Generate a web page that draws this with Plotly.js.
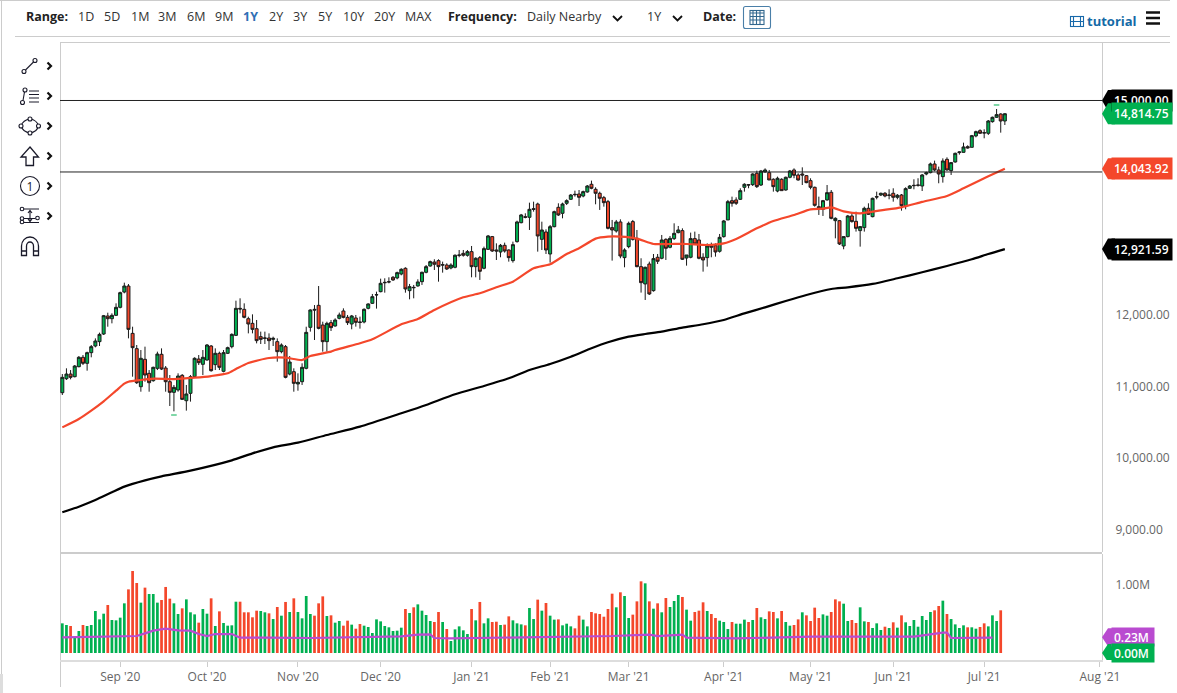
<!DOCTYPE html>
<html><head><meta charset="utf-8">
<script src="https://cdn.plot.ly/plotly-3.0.1.min.js"></script>
<style>
html,body{margin:0;padding:0;background:#fff;font-family:"Open Sans",sans-serif}
#stage{position:relative;width:1177px;height:693px;overflow:hidden}
#chart{position:absolute;left:0;top:0;width:1177px;height:693px}
.l{position:absolute;background:#ccc}
.t{position:absolute;top:9px;line-height:16px;font-size:12.5px;color:#333;white-space:nowrap}
.b{font-weight:700;color:#222}
svg{position:absolute;left:0;top:0;pointer-events:none}
</style></head><body><div id="stage">
<div class="l" style="left:0;top:0;width:1170px;height:1px"></div>
<div class="l" style="left:1px;top:0;width:1px;height:674px"></div>
<div class="l" style="left:0;top:674px;width:3px;height:19px;background:#ddd"></div>
<div class="l" style="left:15px;top:36px;width:1155px;height:1px"></div>
<div class="l" style="left:60px;top:42px;width:1110px;height:1px"></div>
<div class="l" style="left:60px;top:42px;width:1px;height:645px"></div>
<div class="l" style="left:60px;top:552px;width:1042px;height:2px"></div>
<div id="chart"></div>
<div id="bar"></div>
<svg width="1177" height="693" fill="none" stroke="#1a1a2a" stroke-width="1.1">
<circle cx="24" cy="71.5" r="2"/><circle cx="35" cy="60.5" r="2"/><path d="M25.5 70L33.5 62"/>
<circle cx="25" cy="90" r="2"/><circle cx="22.5" cy="102.5" r="2"/><path d="M24.5 92L23 100.5M29 91H39M29 94.5H39M29 98H39M29 102H39"/>
<path d="M30 119Q37 120 38.5 126Q37 132 30 133Q23 132 21 126Q23 120 30 119Z"/><g fill="#fff"><circle cx="30" cy="119" r="2"/><circle cx="30" cy="133" r="2"/><circle cx="21" cy="126" r="2"/><circle cx="38.5" cy="126" r="2"/></g>
<path stroke-width="1.3" d="M30 147L38.5 157H33.5V165.5H26V157H21Z"/>
<circle cx="30" cy="186" r="9.5"/>
<text x="30" y="190.5" text-anchor="middle" font-size="12" fill="#1a1a2a" stroke="none" font-family="Open Sans">1</text>
<circle cx="22" cy="209" r="1.8"/><circle cx="22" cy="218.5" r="1.8"/><circle cx="22" cy="222" r="1.8"/><circle cx="37.5" cy="218" r="1.8"/>
<path d="M24 209H39M24 218.5H35.5M24 222.5H39M30 211V221M28 213L30 210.5L32 213M28 219L30 221.5L32 219"/>
<path stroke-width="1.3" d="M21.5 255.5V246A8.5 9 0 0 1 38.5 246V255.5H33.5V246A3.5 4 0 0 0 26.5 246V255.5ZM21.5 251H26.5M33.5 251H38.5"/>
<g stroke-width="2.2" stroke="#111"><path d="M47.5 62.5L51 66L47.5 69.5M47.5 92.5L51 96L47.5 99.5M47.5 122.5L51 126L47.5 129.5M47.5 152.5L51 156L47.5 159.5M47.5 182.5L51 186L47.5 189.5M47.5 212.5L51 216L47.5 219.5"/>
<path stroke-width="1.8" d="M613 16L617.5 20.5L622 16M673 16L677.5 20.5L682 16"/></g>
<rect x="743.5" y="6.5" width="27" height="22" rx="2" stroke="#4a7fa8"/>
<rect x="750" y="10.5" width="14" height="14" stroke="#33688f"/><path stroke="#33688f" d="M750 13H764M753 10V25M756.5 10V25M760 10V25M750 16.5H764M750 20H764"/>
<g stroke="#1769aa"><rect x="1070.5" y="16.5" width="13" height="10"/><path d="M1073.5 16.5V26.5M1080.5 16.5V26.5M1070.5 21.5H1073.5M1080.5 21.5H1083.5M1073.5 21.5H1080.5"/></g>
<path stroke="#111" stroke-width="2.4" d="M1146 12.5H1160M1146 18H1160M1146 23.5H1160"/>
</svg>
</div>
<script>
// candles
var opens=[10913,11109,11174,11137,11277,11408,11324,11473,11566,11627,
11734,11986,11948,11995,12107,12321,12405,11743,11529,10997,
11380,11184,11081,11254,11450,11258,11067,10918,10951,11156,
10801,10904,11137,11384,11310,11370,11566,11305,11464,11212,
11464,11557,11715,12093,12079,11948,11883,11808,11697,11673,
11678,11659,11627,11487,11557,11174,11207,11035,11067,11254,
11827,12079,12135,11860,11627,11893,11846,11953,12056,11967,
11874,11958,11902,11902,12093,12163,12280,12326,12457,12466,
12527,12518,12573,12653,12340,12387,12406,12466,12597,12685,
12741,12760,12704,12699,12657,12667,12839,12862,12835,12886,
12676,12802,12653,12918,13096,12909,12881,12974,12909,12760,
13026,13291,13375,13366,13487,13552,13058,13161,12853,13235,
13506,13422,13562,13618,13688,13692,13664,13720,13828,13758,
13702,13641,13585,13222,13175,13301,12802,12956,13306,13072,
12676,12434,12713,12340,12807,12793,13058,12947,13068,13152,
13180,12797,12807,13068,13049,12807,12802,12975,12970,12891,
13096,13329,13599,13609,13618,13786,13823,13823,13982,13818,
14000,13991,13898,13734,13898,13748,13926,14028,13958,13972,
13949,13879,13786,13515,13478,13609,13716,13319,13319,12965,
13096,13385,13310,13180,13222,13492,13375,13655,13678,13702,
13678,13702,13646,13678,13525,13772,13814,13818,13804,13972,
13991,14112,14028,13935,14177,14019,14140,14271,14275,14354,
14345,14504,14578,14550,14541,14704,14765,14811,14713];
var highs=[11174,11254,11230,11300,11426,11440,11487,11580,11673,11753,
12000,12032,12023,12163,12326,12452,12433,11836,11580,11510,
11557,11230,11277,11487,11533,11286,11160,11021,11184,11174,
11021,11160,11408,11440,11510,11594,11580,11533,11487,11510,
11557,11743,12200,12233,12163,11976,12009,11930,11767,11767,
11743,11697,11673,11603,11580,11426,11254,11184,11324,11836,
12079,12139,12405,11906,11906,11930,11953,12033,12093,12000,
12000,12000,11977,12093,12163,12294,12326,12508,12513,12527,
12545,12606,12653,12667,12434,12420,12499,12606,12699,12760,
12779,12779,12746,12723,12723,12848,12909,12909,12909,12965,
12807,12825,12956,13119,13105,13002,12993,13012,12918,13026,
13319,13413,13422,13571,13585,13571,13305,13198,13259,13459,
13562,13571,13618,13692,13739,13748,13739,13818,13879,13786,
13725,13665,13609,13329,13329,13338,12933,13306,13329,13189,
12793,12676,12746,12853,12853,13119,13072,13105,13282,13245,
13212,12839,13152,13166,13133,12863,13002,13012,13002,13133,
13329,13609,13655,13646,13772,13842,13832,13982,14019,14028,
14051,14028,13912,13935,13912,13935,14028,14051,13982,14065,
13958,13912,13795,13655,13609,13818,13748,13366,13329,13096,
13399,13431,13445,13245,13515,13562,13641,13725,13711,13720,
13758,13772,13692,13692,13786,13818,13898,13912,13972,14005,
14131,14159,14075,14191,14205,14140,14271,14289,14410,14373,
14518,14578,14597,14597,14727,14774,14881,14821,14821];
var lows=[10881,11091,11100,11128,11268,11300,11221,11408,11547,11566,
11720,11836,11883,11986,12093,12303,11673,11137,11035,10927,
11067,10927,11067,11230,11230,10927,10727,10652,10927,10811,
10662,10788,11128,11300,11160,11361,11207,11230,11230,11198,
11454,11533,11706,12023,11953,11743,11743,11603,11594,11594,
11510,11566,11347,11464,11114,11156,10927,10941,11021,11240,
11767,11650,11799,11487,11487,11776,11837,11939,11953,11860,
11800,11837,11809,11883,12079,12154,12089,12317,12312,12443,
12476,12499,12555,12312,12219,12233,12396,12420,12583,12676,
12629,12466,12592,12629,12639,12653,12807,12816,12816,12527,
12527,12490,12639,12909,12881,12769,12807,12872,12746,12732,
13012,13282,13352,13189,13445,12886,12909,12853,12732,13226,
13385,13352,13538,13608,13655,13524,13646,13711,13758,13548,
13469,13515,13198,12760,13152,12793,12667,12933,13040,12667,
12313,12210,12280,12326,12713,12779,12769,12933,13049,13142,
12769,12690,12793,12979,12779,12606,12676,12807,12816,12872,
13082,13329,13515,13539,13609,13725,13772,13804,13776,13804,
13991,13888,13725,13716,13739,13739,13912,13912,13879,13818,
13842,13758,13515,13399,13385,13599,13338,13072,12979,12919,
13086,13292,13166,12956,13166,13399,13366,13618,13664,13646,
13618,13585,13618,13459,13478,13762,13758,13795,13734,13954,
13981,14009,13842,13851,14019,13958,14131,14243,14271,14326,
14345,14485,14532,14471,14518,14690,14755,14550,14657];
var closes=[11128,11174,11128,11286,11408,11324,11473,11557,11636,11729,
11990,11948,11995,12107,12312,12405,11799,11543,11053,11394,
11160,11053,11268,11454,11244,11067,10918,10988,11146,10820,
10895,11137,11394,11333,11408,11580,11221,11464,11268,11473,
11543,11729,12093,12084,11967,11874,11799,11641,11659,11678,
11641,11673,11487,11580,11128,11342,11044,11058,11268,11757,
12070,12070,11813,11627,11883,11823,11930,12000,11967,11893,
11986,11897,11897,12079,12154,12256,12284,12443,12452,12462,
12490,12592,12639,12364,12396,12382,12462,12597,12676,12746,
12709,12676,12699,12643,12699,12835,12835,12835,12886,12676,
12793,12611,12928,13105,12895,12895,12974,12895,12802,12984,
13301,13399,13366,13478,13478,13105,13189,12909,13235,13445,
13399,13552,13599,13678,13683,13646,13725,13804,13772,13702,
13632,13571,13212,13189,13301,12825,12909,13282,13058,12676,
12452,12667,12294,12788,12751,13049,12933,13072,13142,13189,
12779,12839,13068,12993,12793,12769,12965,12947,12881,13086,
13315,13585,13562,13562,13739,13828,13818,13972,13795,14014,
14028,13888,13795,13912,13739,13926,14014,13954,13888,13958,
13851,13786,13534,13487,13599,13711,13352,13352,12993,13096,
13385,13306,13212,13236,13492,13408,13632,13650,13702,13664,
13674,13646,13674,13529,13767,13804,13809,13814,13958,13991,
14112,14028,13972,14154,14028,14131,14261,14280,14350,14336,
14508,14564,14541,14546,14713,14765,14802,14713,14814.75];
// moving averages, read at selected bars
var fastBars=[0,4,7,10,13,15,16,19,22,27,32,36,40,42,45,50,54,58,60,65,66,72,75,82,86,90,97,101,105,109,114,118,122,125,129,132,135,139,143,147,151,156,160,163,168,172,177,181,184,186,189,193,198,203,208,214,218,223,228];
var fastMA=[10428,10545,10662,10792,10941,11039,11067,11091,11109,11104,11123,11146,11184,11244,11328,11398,11403,11370,11426,11487,11510,11604,11660,11870,11944,12070,12247,12303,12387,12466,12653,12709,12853,12933,13068,13096,13096,13068,12993,12993,12993,12979,13002,13063,13212,13315,13399,13478,13487,13506,13450,13422,13464,13506,13581,13664,13772,13912,14043.92];
var slowBars=[0,4,8,12,15,20,24,31,41,46,51,57,64,72,82,88,95,102,108,113,118,123,128,132,137,141,145,150,155,160,165,170,175,180,186,190,196,202,208,214,220,224,228];
var slowMA=[9240,9319,9412,9520,9599,9687,9743,9823,9967,10065,10149,10214,10321,10438,10625,10741,10891,11007,11114,11231,11315,11417,11534,11618,11697,11734,11767,11823,11870,11930,12023,12107,12196,12280,12364,12387,12434,12513,12597,12685,12779,12853,12921.59];
// volume, in millions
var volume=[.433,.409,.394,.229,.321,.409,.394,.409,.613,.491,.574,.701,.482,.477,.516,.725,.929,1.197,1.022,.735,
.954,.861,.861,.735,.774,.964,.793,.725,.569,.652,.783,.594,.564,.443,.642,.574,.798,.394,.608,.438,
.399,.404,.749,.749,.594,.594,.521,.618,.613,.594,.579,.496,.672,.545,.745,.599,.798,.599,.506,.832,
.569,.545,.725,.827,.540,.550,.443,.467,.399,.472,.414,.355,.423,.399,.380,.292,.491,.462,.394,.375,.321,.326,
.370,.642,.584,.667,.710,.618,.555,.467,.453,.599,.453,.350,.175,.345,.389,.331,.277,.642,.477,.745,
.433,.506,.453,.457,.409,.414,.535,.477,.433,.418,.404,.657,.496,.779,.618,.730,.545,.487,.491,.404,
.428,.389,.360,.545,.487,.389,.599,.579,.569,.530,.642,.866,.667,.886,.832,.511,.560,.754,1.046,1.017,
.754,.647,.725,.594,.803,.672,.759,.847,.818,.633,.472,.599,.618,.740,.613,.569,.511,.472,.453,.350,
.453,.428,.428,.487,.453,.482,.657,.521,.496,.608,.599,.506,.613,
.453,.399,.409,.491,.594,.550,.467,.662,.511,.564,.545,.599,.783,.754,.720,.467,.482,.438,.667,.462,
.453,.365,.433,.336,.384,.365,.448,.370,.550,.448,.394,.482,.384,.540,.482,.599,.623,.686,.764,.569,
.496,.418,.365,.404,.375,.375,.355,.380,.433,.389,.550,.467,.623];
var volUp=[1,1,0,1,1,0,1,1,1,1,1,0,1,1,1,1,0,0,0,1,
0,1,1,1,0,0,0,1,1,0,1,1,1,0,1,1,0,1,0,1,
1,1,1,0,0,0,0,0,1,1,0,1,0,1,0,1,0,1,1,1,
1,0,0,0,1,0,1,1,0,0,1,0,0,1,1,1,1,1,1,1,1,1,
1,0,1,0,1,1,1,1,0,0,1,0,1,1,1,1,1,0,1,0,
1,1,0,0,1,0,0,1,1,1,0,1,1,0,1,0,1,1,0,1,
1,1,0,0,1,1,0,0,0,0,0,0,1,0,1,1,0,0,0,1,
0,1,0,1,0,1,1,1,0,1,1,0,0,0,1,0,0,1,1,1,
0,1,1,1,0,1,0,1,1,0,0,1,0,
1,1,0,0,1,0,0,0,0,1,1,0,0,0,1,1,0,0,1,1,
0,1,1,1,0,1,0,1,0,1,1,1,1,1,1,1,0,0,1,0,
1,1,1,1,0,1,1,0,0,1,1,1,0];
var volMABars=[0,11,18,20,22,25,28,31,33,35,37,41,43,50,60,82,86,89,90,94,114,133,142,144,150,151,163,181,206,210,213,214,215,225];
var volMA=[.229,.238,.248,.287,.326,.355,.331,.326,.277,.248,.277,.277,.224,.224,.219,.243,.268,.272,.219,.214,.229,.248,.268,.248,.268,.224,.214,.238,.238,.277,.297,.297,.219,.224];
// axis labels
var monthBars=[14,35,57,77,99,118,137,160,181,201,223,251];
var monthLabels=["Sep '20","Oct '20","Nov '20","Dec '20","Jan '21","Feb '21","Mar '21","Apr '21","May '21","Jun '21","Jul '21","Aug '21"];
var priceTicks=[9000,10000,11000,12000];
var extremeBars=[27,226], extremeVals=[10601,14937];
var bars=opens.map(function(_,i){return i;});
var GREEN='#00b050',RED='#f4472b',PURPLE='#b94bd0',W=1177,H=693,L=60,R=1102,T=42,B=660;
function px(x){return (x-L)/(R-L);}
var traces=[
{type:'bar',x:bars.slice(0,volume.length),y:volume,yaxis:'y2',width:.66,hoverinfo:'skip',marker:{color:volUp.map(function(u){return u?GREEN:RED;}),line:{width:0}}},
{type:'scatter',mode:'lines',x:volMABars,y:volMA,yaxis:'y2',line:{color:PURPLE,width:2.2},hoverinfo:'skip'},
{type:'scatter',mode:'lines',x:slowBars,y:slowMA,line:{color:'#000',width:2.2,shape:'spline',smoothing:.6},hoverinfo:'skip'},
{type:'scatter',mode:'lines',x:fastBars,y:fastMA,line:{color:RED,width:2.2,shape:'spline',smoothing:.6},hoverinfo:'skip'},
{type:'candlestick',x:bars,open:opens,high:highs,low:lows,close:closes,whiskerwidth:0,hoverinfo:'skip',
 increasing:{fillcolor:GREEN,line:{color:'#1a1a1a',width:1}},decreasing:{fillcolor:RED,line:{color:'#1a1a1a',width:1}}},
{type:'scatter',mode:'markers',x:extremeBars,y:extremeVals,marker:{symbol:'line-ew',size:4,line:{color:GREEN,width:1}},hoverinfo:'skip'}
];
function flag(val,text,col,ref,w,h){
 return {xref:'paper',yref:ref,x:px(1111),y:val,xanchor:'left',yanchor:'middle',text:text,showarrow:false,align:'left',
  width:w,height:h,borderpad:2,bgcolor:col,font:{family:'Open Sans',size:12,color:'#fff',weight:600}};
}
function tip(val,col,ref,h){
 return {type:'path',xref:'paper',yref:ref,xsizemode:'pixel',ysizemode:'pixel',xanchor:1,yanchor:val,
  path:'M0,0 L6,'+h+' L13,'+h+' L13,-'+h+' L6,-'+h+' Z',fillcolor:col,line:{width:0},layer:'above'};
}
var layout={width:W,height:H,margin:{l:L,r:W-R,t:T,b:H-B,pad:0},paper_bgcolor:'rgba(0,0,0,0)',plot_bgcolor:'rgba(0,0,0,0)',showlegend:false,
 boxgap:.28,boxgroupgap:0,barmode:'overlay',hovermode:false,
 xaxis:{type:'linear',range:[-.56,251.5],anchor:'y2',rangeslider:{visible:false},showgrid:false,zeroline:false,showline:true,linecolor:'#ddd',linewidth:2,
  tickmode:'array',tickvals:monthBars,ticktext:monthLabels,ticks:'outside',ticklen:5,tickcolor:'#ccc',tickfont:{family:'Open Sans',size:12,color:'#666'}},
 yaxis:{domain:[(B-552)/(B-T),1],range:[8685,15818],side:'right',anchor:'x',showgrid:false,zeroline:false,showline:true,linecolor:'#ccc',linewidth:1,
  tickmode:'array',tickvals:priceTicks,tickformat:',.2f',ticks:'outside',ticklen:10,tickcolor:'rgba(0,0,0,0)',tickfont:{family:'Open Sans',size:12,color:'#666'}},
 yaxis2:{domain:[0,(B-554)/(B-T)],range:[-.102,1.445],side:'right',anchor:'x',showgrid:false,zeroline:false,showline:true,linecolor:'#ccc',linewidth:1,
  tickmode:'array',tickvals:[1],ticktext:['1.00M'],ticks:'outside',ticklen:10,tickcolor:'rgba(0,0,0,0)',tickfont:{family:'Open Sans',size:12,color:'#666'}},
 shapes:[
  {type:'line',xref:'paper',yref:'y',x0:0,x1:1,y0:15000,y1:15000,line:{color:'#222',width:1}},
  {type:'line',xref:'paper',yref:'y',x0:0,x1:1,y0:14000,y1:14000,line:{color:'#222',width:1}},
  tip(15000,'#000','y',10.5),tip(14814.75,GREEN,'y',10.5),tip(14043.92,RED,'y',10.5),tip(12921.59,'#000','y',10.5),tip(.23,PURPLE,'y2',9),tip(0,GREEN,'y2',9)
 ],
 annotations:[
  flag(15000,'15,000.00','#000','y',56,17),flag(14814.75,'14,814.75',GREEN,'y',56,17),flag(14043.92,'14,043.92',RED,'y',56,17),flag(12921.59,'12,921.59','#000','y',56,17),
  flag(.23,'0.23M',PURPLE,'y2',38,14),flag(0,'0.00M',GREEN,'y2',38,14)
 ]};
Plotly.newPlot('chart',traces,layout,{displayModeBar:false,staticPlot:true});
var labels=[["Range:",26,1],["1D",78],["5D",104],["1M",131],["3M",158],["6M",187],["9M",215],["1Y",243,2],["2Y",269],["3Y",293],["5Y",318],["10Y",343],["20Y",374],["MAX",405],["Frequency:",448,1],["Daily Nearby",527],["1Y",647],["Date:",703,1]];
var bar=document.getElementById('bar');
labels.forEach(function(a){var d=document.createElement('div');d.className='t'+(a[2]==1?' b':'');d.textContent=a[0];d.style.left=a[1]+'px';if(a[2]==2){d.style.color='#2f6fb5';d.style.fontWeight=700;}bar.appendChild(d);});
var t=document.createElement('div');t.className='t';t.textContent='tutorial';t.style.cssText='left:1087px;top:13px;font-size:13px;font-weight:700;color:#146aa6';bar.appendChild(t);
</script></body></html>
